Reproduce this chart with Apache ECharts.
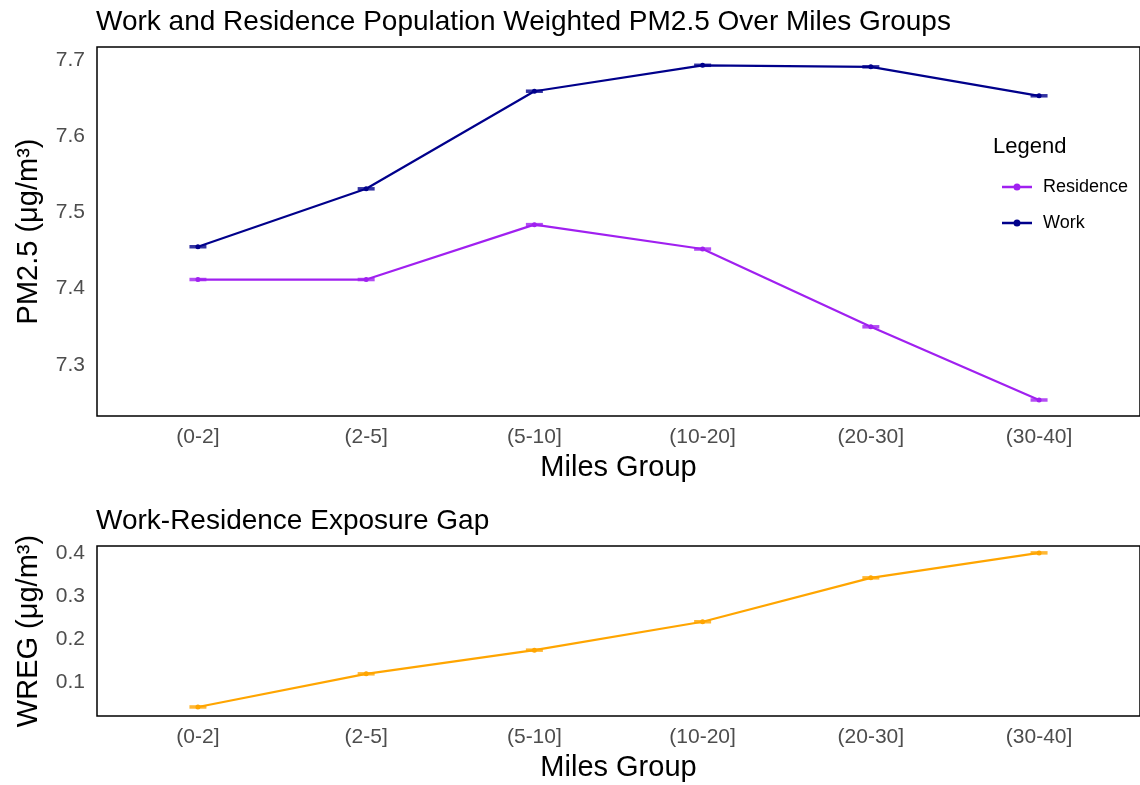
<!DOCTYPE html>
<html>
<head>
<meta charset="utf-8">
<script src="https://cdn.jsdelivr.net/npm/echarts@6/dist/echarts.min.js"></script>
<style>html,body{margin:0;padding:0;background:#fff;}#c{width:1140px;height:785px;}</style>
</head>
<body>
<div id="c"></div>
<script>
const categories = ['(0-2]', '(2-5]', '(5-10]', '(10-20]', '(20-30]', '(30-40]'];
const work = [7.455, 7.531, 7.659, 7.693, 7.691, 7.653];
const residence = [7.412, 7.412, 7.484, 7.452, 7.350, 7.254];
const gap = [0.042, 0.119, 0.174, 0.240, 0.342, 0.400];
const topTicks = [7.3, 7.4, 7.5, 7.6, 7.7];
const bottomTicks = [0.1, 0.2, 0.3, 0.4];

const FONT = 'Liberation Sans, Arial, sans-serif';
const toPts = arr => arr.map((v, i) => [i + 1, v]);
const xIdx = categories.map((c, i) => i + 1);
const LEGEND_ICON = 'path://M0,2.25 L30,2.25 L30,4.75 L0,4.75 Z M15,0 A3.5,3.5 0 1,1 15,7 A3.5,3.5 0 1,1 15,0 Z';

function xAxis(gridIndex) {
  return {
    type: 'value', gridIndex, min: 0.4, max: 6.6,
    name: 'Miles Group', nameLocation: 'middle', nameGap: 37,
    nameTextStyle: {fontSize: 29, color: '#000', fontFamily: FONT},
    axisLine: {show: false}, axisTick: {show: false}, splitLine: {show: false},
    axisLabel: {customValues: xIdx, formatter: v => categories[Math.round(v) - 1] || '',
      fontSize: 21, color: '#4d4d4d', fontFamily: FONT, margin: 11}
  };
}
function yAxis(gridIndex, min, max, ticks, name, dec) {
  return {
    type: 'value', gridIndex, min, max,
    name, nameLocation: 'middle', nameGap: 54,
    nameTextStyle: {fontSize: 29, color: '#000', fontFamily: FONT},
    axisLine: {show: false}, axisTick: {show: false}, splitLine: {show: false},
    axisLabel: {customValues: ticks, formatter: v => v.toFixed(dec),
      fontSize: 21, color: '#4d4d4d', fontFamily: FONT, margin: 12}
  };
}
function lineSeries(name, data, color, xi, yi) {
  return {
    name, type: 'line', xAxisIndex: xi, yAxisIndex: yi, data: toPts(data),
    symbol: 'circle', symbolSize: 5, showSymbol: true,
    lineStyle: {color, width: 2.2}, itemStyle: {color}, z: 3, animation: false
  };
}
function errSeries(name, data, color, xi, yi) {
  return {
    name, type: 'scatter', xAxisIndex: xi, yAxisIndex: yi, data: toPts(data),
    symbol: 'rect', symbolSize: [17, 3.5], itemStyle: {color}, z: 2, animation: false
  };
}

const chart = echarts.init(document.getElementById('c'), null, {renderer: 'canvas'});
chart.setOption({
  backgroundColor: '#fff',
  animation: false,
  title: [
    {text: 'Work and Residence Population Weighted PM2.5 Over Miles Groups', left: 96, top: 8, padding: 0,
      textStyle: {fontSize: 28, fontWeight: 'normal', color: '#000', fontFamily: FONT}},
    {text: 'Work-Residence Exposure Gap', left: 96, top: 507, padding: 0,
      textStyle: {fontSize: 28, fontWeight: 'normal', color: '#000', fontFamily: FONT}},
    {text: 'Legend', left: 993, top: 136, padding: 0,
      textStyle: {fontSize: 22, fontWeight: 'normal', color: '#000', fontFamily: FONT}}
  ],
  legend: {
    data: [{name: 'Residence', icon: LEGEND_ICON}, {name: 'Work', icon: LEGEND_ICON}],
    orient: 'vertical', left: 997, top: 173,
    itemWidth: 30, itemHeight: 7, itemGap: 18,
    textStyle: {fontSize: 18, color: '#000', fontFamily: FONT, padding: [0, 0, 0, 6]}
  },
  grid: [
    {left: 97, right: -8, top: 47, bottom: 369, show: true, borderColor: '#000', borderWidth: 1.5},
    {left: 97, right: -8, top: 546, bottom: 69, show: true, borderColor: '#000', borderWidth: 1.5}
  ],
  xAxis: [xAxis(0), xAxis(1)],
  yAxis: [
    yAxis(0, 7.233, 7.717, topTicks, 'PM2.5 (μg/m³)', 1),
    yAxis(1, 0.021, 0.416, bottomTicks, 'WREG (μg/m³)', 1)
  ],
  series: [
    lineSeries('Residence', residence, '#A020F0', 0, 0),
    lineSeries('Work', work, '#00008B', 0, 0),
    errSeries('Residence err', residence, '#A020F0', 0, 0),
    errSeries('Work err', work, '#00008B', 0, 0),
    lineSeries('Gap', gap, '#FFA500', 1, 1),
    errSeries('Gap err', gap, '#FFA500', 1, 1)
  ]
});
</script>
</body>
</html>
